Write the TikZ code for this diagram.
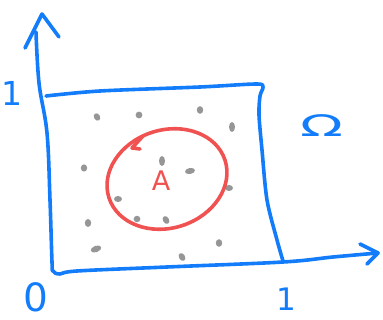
\documentclass[tikz,border=0pt]{standalone}
\usepackage{fontspec}
\setmainfont{DejaVu Sans}
\definecolor{pen}{RGB}{18,124,250}
\definecolor{redpen}{RGB}{240,82,82}
\definecolor{dotgrey}{RGB}{150,150,150}
\begin{document}
\begin{tikzpicture}[x=1pt,y=-1pt,
  stroke/.style={draw=pen,line width=3.6pt,line cap=round,line join=round},
  redstroke/.style={draw=redpen,line width=3.6pt,line cap=round,line join=round},
  bluetext/.style={text=pen,inner sep=0pt,font=\fontsize{33}{33}\selectfont},
  redtext/.style={text=redpen,inner sep=0pt,font=\fontsize{27}{27}\selectfont},
  speck/.style={fill=dotgrey,draw=none}]
\useasboundingbox (0,0) rectangle (383,320);
% y axis + left side of square + bottom side + x axis
\draw[stroke] plot[smooth,tension=0.6] coordinates {(36,32) (39,83) (47,133) (50,200) (52,262) (53,271) (60,274) (77,271) (167,267) (283,262) (333,257) (378,253)};
% arrowheads
\draw[stroke] (25,48) -- (42,14) -- (59,37);
\draw[stroke] (360,244) -- (378,253) -- (367,264);
% top and right sides of the square
\draw[stroke] plot[smooth,tension=0.5] coordinates {(46,96) (100,91) (200,87) (256,84) (263,87) (260,96) (259,115) (262,150) (267,200) (277,240) (283,261)};
% dots
\foreach \x/\y/\a/\b/\r in {97/117/3/4/30, 139/115/3.4/3.4/0, 200/110/3.2/3.8/0, 232/127/3/5/0,
  162/161/3/5/0, 190/171/5/3/10, 84/168/3.2/3.6/0, 229/188/4/3/0, 118/199/4/3/0,
  137/219/3.4/3.2/0, 166/220/3/4.2/30, 88/223/3.2/4/0, 96/249/5.5/3.2/20, 219/243/3.2/3.8/0, 182/257/3/4.2/30}
  \fill[speck,rotate around={\r:(\x,\y)}] (\x,\y) ellipse [x radius=\a, y radius=\b];
% ellipse A
\draw[redstroke,rotate around={18:(167,179)}] (167,179) ellipse [x radius=61, y radius=49];
\draw[redstroke] (143,136) -- (132,148) -- (140,149);
% labels
\node[redtext] (A) at (161,181) {A};
\node[bluetext] (one-y) at (12,93) {1};
\node[bluetext,font=\fontsize{31}{31}\selectfont] (one-x) at (286,299) {1};
\node[bluetext,font=\fontsize{39}{39}\selectfont] (zero) at (36,297) {0};
\node[bluetext] (omega) at (322,126) {\scalebox{1.7}[0.9]{Ω}};
\end{tikzpicture}
\end{document}
